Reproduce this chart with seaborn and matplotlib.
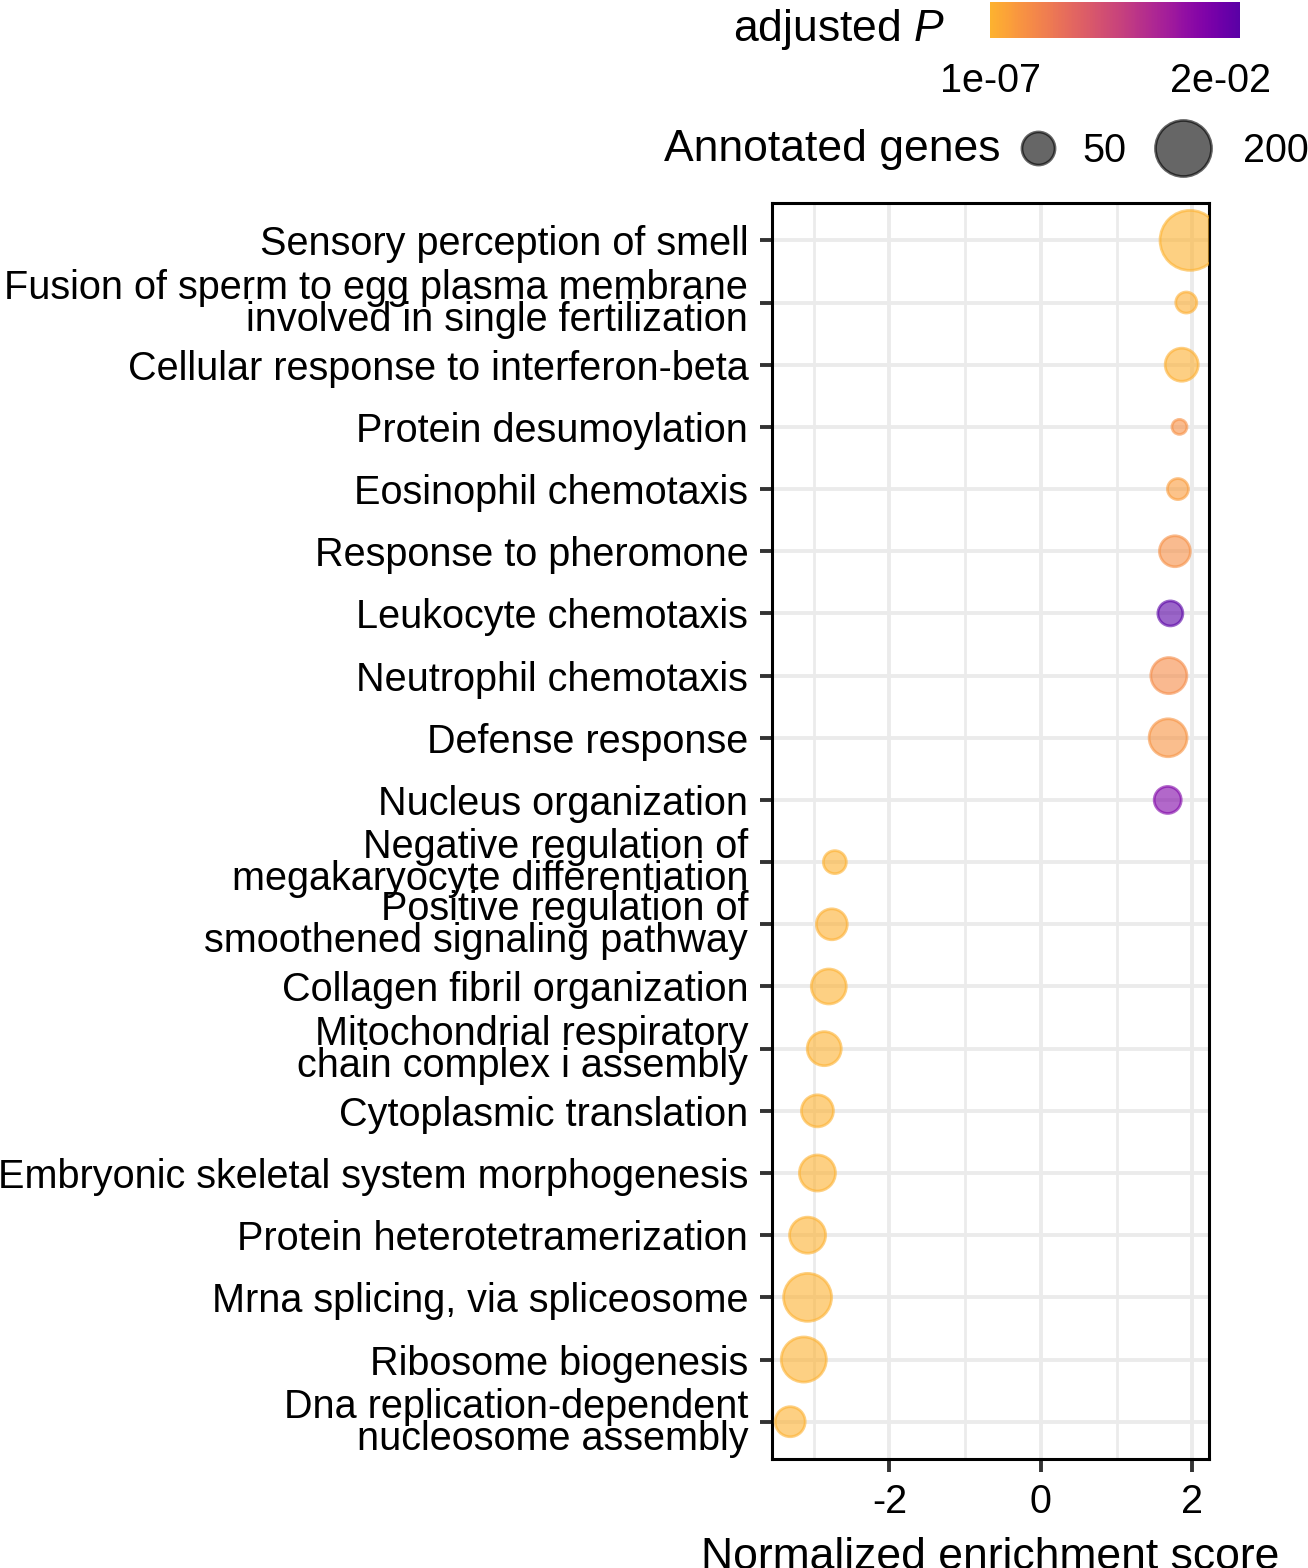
"""
GSEA dot plot: normalized enrichment score per GO term,
coloured by adjusted P and sized by the number of annotated genes.
"""

import numpy as np
import pandas as pd
import matplotlib
matplotlib.use("Agg")
import matplotlib.pyplot as plt
import seaborn as sns
from matplotlib.cm import ScalarMappable
from matplotlib.colors import ListedColormap, Normalize
from matplotlib.lines import Line2D
from matplotlib.ticker import MultipleLocator

terms = [
    "Sensory perception of smell",
    "Fusion of sperm to egg plasma membrane\ninvolved in single fertilization",
    "Cellular response to interferon-beta",
    "Protein desumoylation",
    "Eosinophil chemotaxis",
    "Response to pheromone",
    "Leukocyte chemotaxis",
    "Neutrophil chemotaxis",
    "Defense response",
    "Nucleus organization",
    "Negative regulation of\nmegakaryocyte differentiation",
    "Positive regulation of\nsmoothened signaling pathway",
    "Collagen fibril organization",
    "Mitochondrial respiratory\nchain complex i assembly",
    "Cytoplasmic translation",
    "Embryonic skeletal system morphogenesis",
    "Protein heterotetramerization",
    "Mrna splicing, via spliceosome",
    "Ribosome biogenesis",
    "Dna replication-dependent\nnucleosome assembly",
]
nes = [1.97, 1.92, 1.86, 1.83, 1.81, 1.77, 1.71, 1.69, 1.68, 1.675,
       -2.72, -2.76, -2.80, -2.86, -2.95, -2.95, -3.08, -3.08, -3.13, -3.31]
padj = [1e-07, 4e-04, 3e-04, 3.0e-03, 2.0e-03, 3.2e-03, 2.17e-02, 3.5e-03, 2.8e-03, 1.85e-02,
        2e-04, 3e-04, 1e-04, 1e-04, 2e-04, 1e-04, 1e-04, 1e-04, 1e-04, 2e-04]
genes = [238, 18, 50, 14, 18, 42, 25, 63, 72, 30,
         21, 42, 58, 54, 46, 63, 63, 134, 114, 39]

cbar_ticks = [1e-07, 2e-02]
cbar_ticklabels = ["1e-07", "2e-02"]
size_breaks = [50, 200]

DPI = 100
PX = 72 / DPI  # points per pixel
LABEL_FS = 28.5


def marker_diam_px(n):
    # area scale like ggplot: diameter grows with sqrt of the rescaled count
    lo, hi = min(genes), max(genes)
    return 15 + 45 * np.sqrt((n - lo) / (hi - lo))


sns.set_style("white")
plt.rcParams["font.family"] = ["Liberation Sans", "DejaVu Sans"]
plt.rcParams["mathtext.fontset"] = "custom"
plt.rcParams["mathtext.rm"] = "Liberation Sans"
plt.rcParams["mathtext.it"] = "Liberation Sans:italic"
plt.rcParams["axes.unicode_minus"] = False
for key in ["text.color", "axes.labelcolor", "xtick.labelcolor", "ytick.labelcolor"]:
    plt.rcParams[key] = "black"

cmap = ListedColormap(plt.get_cmap("plasma")(np.linspace(0.83, 0.16, 256)))
norm = Normalize(vmin=min(padj), vmax=max(padj))

df = pd.DataFrame({"term": terms, "nes": nes, "padj": padj, "genes": genes})

fig = plt.figure(figsize=(13.08, 15.68), dpi=DPI)
ax = fig.add_axes([0.5902, 0.0695, 0.3341, 0.801])

sns.scatterplot(
    data=df, x="nes", y="term", hue="padj", hue_norm=norm, palette=cmap,
    size="genes", sizes={n: (marker_diam_px(n) * PX) ** 2 for n in genes},
    alpha=0.6, edgecolor="face", linewidth=2, legend=False, ax=ax, zorder=3,
)

ax.set_ylim(len(terms) - 0.4, -0.6)
ax.set_xlim(-3.55, 2.22)
ax.xaxis.set_major_locator(MultipleLocator(2))
ax.xaxis.set_minor_locator(MultipleLocator(1))
ax.set_axisbelow(True)
ax.grid(True, which="major", color="#EBEBEB", linewidth=2.8)
ax.grid(True, which="minor", axis="x", color="#EBEBEB", linewidth=2.0)
for s in ax.spines.values():
    s.set_color("black")
    s.set_linewidth(2.2)
ax.tick_params(which="major", length=9, width=2.8, color="#333333",
               labelsize=LABEL_FS, labelcolor="black", pad=8,
               left=True, bottom=True)
ax.tick_params(which="minor", length=0)
for lbl in ax.get_yticklabels():
    lbl.set_linespacing(0.8)
ax.set_ylabel("")
ax.set_xlabel("Normalized enrichment score", fontsize=32, labelpad=12)

# colour bar for adjusted P
cax = fig.add_axes([0.7569, 0.9758, 0.1911, 0.023])
cb = fig.colorbar(ScalarMappable(norm=norm, cmap=cmap), cax=cax,
                  orientation="horizontal", ticks=cbar_ticks)
cb.ax.set_xticklabels(cbar_ticklabels)
cb.outline.set_visible(False)
cax.tick_params(axis="x", which="both", direction="in", color="white",
                length=5, width=1.5, top=True, bottom=True, labelsize=LABEL_FS, pad=17)
fig.text(945 / 1308, 1 - 30 / 1568, "adjusted $P$", ha="right", va="center", fontsize=32)

# size legend: one key per break so each key box fits its own circle
fig.text(1000 / 1308, 1 - 150 / 1568, "Annotated genes", ha="right", va="center", fontsize=32)
key_left = {50: 1021, 200: 1155}
key_gap = {50: 28, 200: 32}
em = LABEL_FS / PX
for b in size_breaks:
    d = marker_diam_px(b)
    h = Line2D([], [], ls="none", marker="o", markersize=d * PX,
               markerfacecolor="black", markeredgecolor="black", alpha=0.6,
               markeredgewidth=2)
    fig.legend([h], [str(b)], loc="center left",
               bbox_to_anchor=(key_left[b] / 1308, 1 - 151 / 1568), frameon=False,
               fontsize=LABEL_FS, handlelength=d / em, handletextpad=key_gap[b] / em,
               borderpad=0, borderaxespad=0)

fig.savefig("out.png", dpi=DPI)
